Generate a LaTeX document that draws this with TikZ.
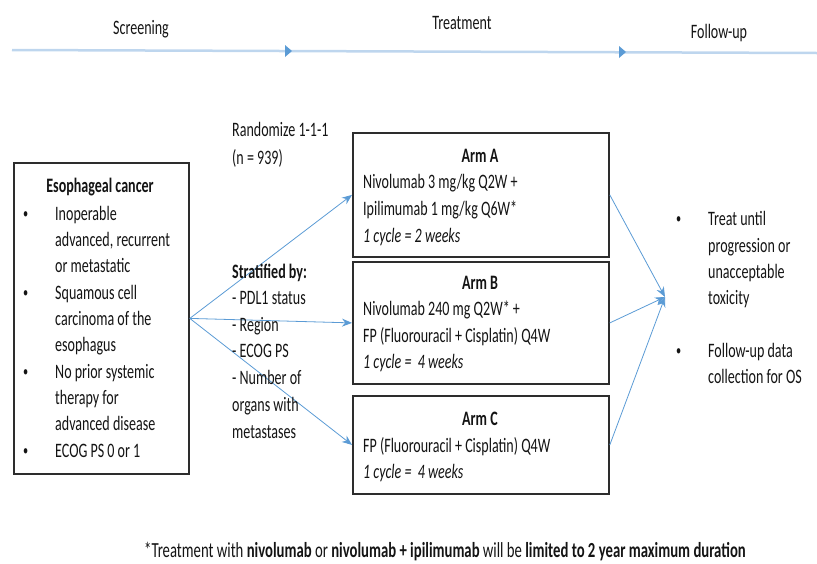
\documentclass[tikz,border=0pt]{standalone}
\usepackage{fontspec}
\setmainfont{Carlito}[FakeStretch=0.685]
\usetikzlibrary{arrows.meta}
\definecolor{linkblue}{RGB}{91,155,213}
\definecolor{tlblue}{RGB}{190,214,238}
\definecolor{boxgray}{RGB}{45,45,45}
\definecolor{txt}{RGB}{20,20,20}
\newcommand{\fsz}{\fontsize{20.5}{26}\selectfont}
\tikzset{
  boxnode/.style={draw=boxgray, line width=1.8pt, fill=white, inner sep=0pt},
  conn/.style={draw=linkblue, line width=0.8pt, -{Stealth[length=10pt,width=8pt]}},
  tl/.style={draw=tlblue, line width=2.5pt},
  tlhead/.style={fill=linkblue, draw=none},
  ln/.style={anchor=base west, inner sep=0pt, text=txt, font=\fsz},
  lnc/.style={anchor=base, inner sep=0pt, text=txt, font=\fsz\bfseries},
  phase/.style={anchor=base, inner sep=0pt, text=txt, font=\fsz},
  bul/.style={anchor=base west, inner sep=0pt, text=txt, font=\fontsize{15}{20}\selectfont},
}
\begin{document}
\begin{tikzpicture}[x=1pt,y=-1pt]
\useasboundingbox (0,0) rectangle (817,563);
% timeline
\coordinate (t0) at (12,50);
\coordinate (t1) at (292,51);
\coordinate (t2) at (626,52);
\coordinate (t3) at (817,53);
\draw[tl] (t0) -- (t3);
\fill[tlhead] (t1) -- ++(-7,-6) -- ++(0,12) -- cycle;
\fill[tlhead] (t2) -- ++(-7,-6) -- ++(0,12) -- cycle;
\node[phase] (ph1) at (141,34) {Screening};
\node[phase] (ph2) at (462,29) {Treatment};
\node[phase] (ph3) at (719,38) {Follow-up};
% boxes
\node[boxnode, minimum width=175pt, minimum height=311pt, anchor=north west] (left) at (13,162) {};
\node[boxnode, minimum width=256pt, minimum height=124pt, anchor=north west] (armA) at (352,132) {};
\node[boxnode, minimum width=256pt, minimum height=122pt, anchor=north west] (armB) at (352,261) {};
\node[boxnode, minimum width=256pt, minimum height=98pt, anchor=north west] (armC) at (352,395) {};
\coordinate (merge) at (665,297);
% connectors
\draw[conn] (left.east) -- (armA.west);
\draw[conn] (left.east) -- (armB.west);
\draw[conn] (left.east) -- (armC.west);
\draw[conn] (armA.east) -- (merge);
\draw[conn] (armB.east) -- (merge);
\draw[conn] (armC.east) -- (merge);
% left box text
\node[lnc] (lh) at (100,192) {Esophageal cancer};
\foreach \yy in {218,297,376,455} \node[bul] at (23,\yy) {•};
\node[ln] (l1) at (55,220) {Inoperable};
\node[ln] (l2) at (55,246) {advanced, recurrent};
\node[ln] (l3) at (55,272) {or metastatic};
\node[ln] (l4) at (55,299) {Squamous cell};
\node[ln] (l5) at (55,325) {carcinoma of the};
\node[ln] (l6) at (55,351) {esophagus};
\node[ln] (l7) at (55,378) {No prior systemic};
\node[ln] (l8) at (55,404) {therapy for};
\node[ln] (l9) at (55,430) {advanced disease};
\node[ln] (l10) at (55,457) {ECOG PS 0 or 1};
% randomize
\node[ln] (r1) at (232,136) {Randomize 1-1-1};
\node[ln] (r2) at (232,164) {(n = 939)};
% stratified
\node[ln, font=\fsz\bfseries] (s0) at (232,278) {Stratified by:};
\node[ln] (s1) at (232,304) {- PDL1 status};
\node[ln] (s2) at (232,331) {- Region};
\node[ln] (s3) at (232,357) {- ECOG PS};
\node[ln] (s4) at (232,384) {- Number of};
\node[ln] (s5) at (232,411) {organs with};
\node[ln] (s6) at (232,438) {metastases};
% arm A
\node[lnc] (ah) at (480,162) {Arm A};
\node[ln] (a1) at (363,188) {Nivolumab 3 mg/kg Q2W +};
\node[ln] (a2) at (363,215) {Ipilimumab 1 mg/kg Q6W*};
\node[ln, font=\fsz\itshape] (a3) at (363,242) {1 cycle = 2 weeks};
% arm B
\node[lnc] (bh) at (480,289) {Arm B};
\node[ln] (b1) at (363,315) {Nivolumab 240 mg Q2W* +};
\node[ln] (b2) at (363,342) {FP (Fluorouracil + Cisplatin) Q4W};
\node[ln, font=\fsz\itshape] (b3) at (363,368) {1 cycle =\ \ 4 weeks};
% arm C
\node[lnc] (ch) at (480,425) {Arm C};
\node[ln] (c1) at (363,452) {FP (Fluorouracil + Cisplatin) Q4W};
\node[ln, font=\fsz\itshape] (c2) at (363,478) {1 cycle =\ \ 4 weeks};
% right text
\foreach \yy in {223,355} \node[bul] at (676,\yy) {•};
\node[ln] (f1) at (708,225) {Treat until};
\node[ln] (f2) at (708,252) {progression or};
\node[ln] (f3) at (708,278) {unacceptable};
\node[ln] (f4) at (708,304) {toxicity};
\node[ln] (f5) at (708,357) {Follow-up data};
\node[ln] (f6) at (708,383) {collection for OS};
% footnote
\node[phase, font=\fontsize{21.5}{26}\selectfont] (foot) at (445,557) {*Treatment with \textbf{nivolumab} or \textbf{nivolumab + ipilimumab} will be \textbf{limited to 2 year maximum duration}};
\end{tikzpicture}
\end{document}
